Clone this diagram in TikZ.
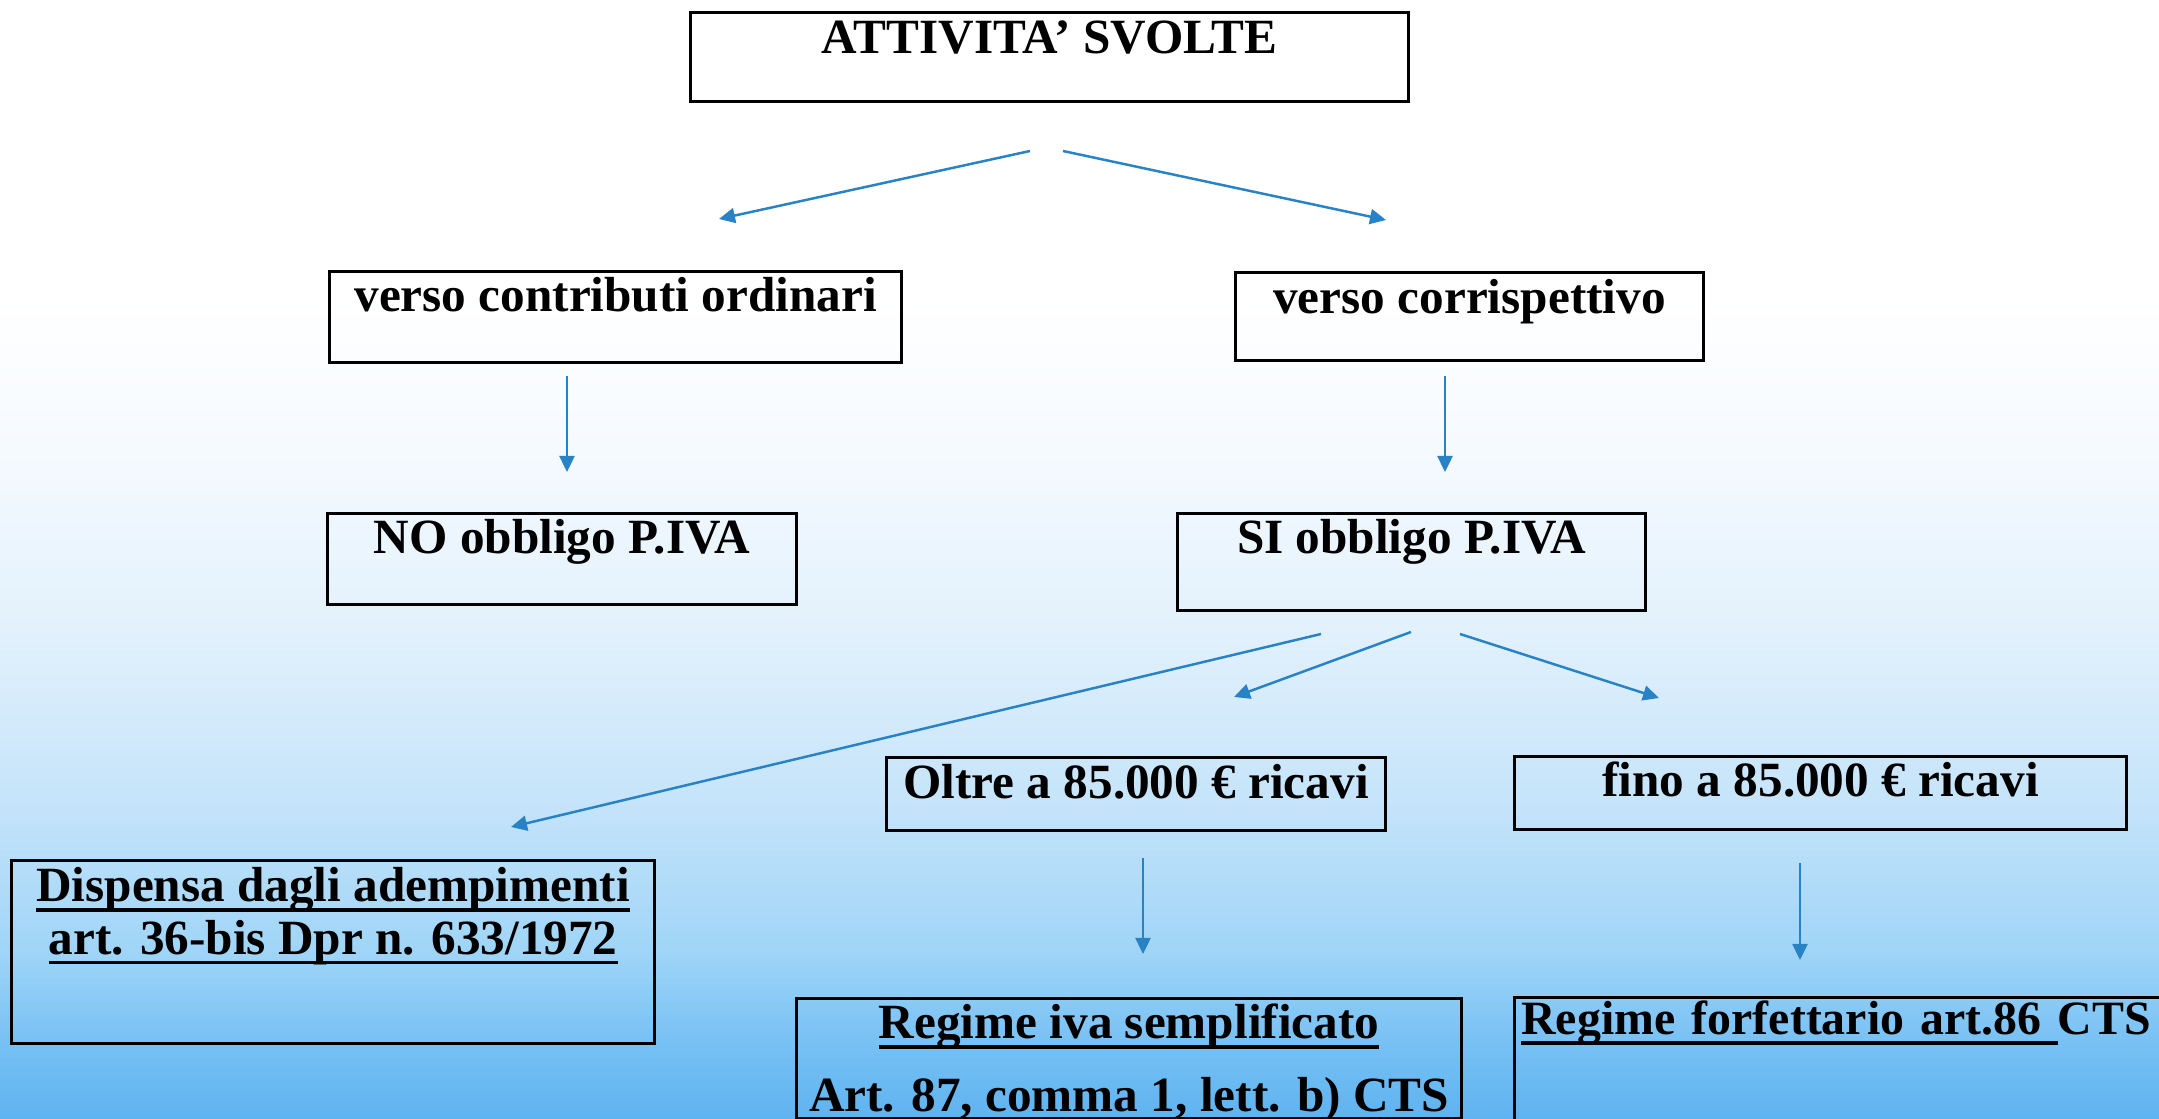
\documentclass[tikz,border=0pt]{standalone}
\usepackage{fontspec}
\setmainfont{Liberation Serif}
\usepackage{tikz}
\usetikzlibrary{arrows.meta}
\definecolor{arrblue}{RGB}{40,130,198}
\pgfdeclareverticalshading{bgfade}{100bp}{%
  rgb(0bp)=(0.369,0.702,0.941);
  rgb(25bp)=(0.369,0.702,0.941);
  rgb(29.5bp)=(0.463,0.753,0.957);
  rgb(35.3bp)=(0.627,0.835,0.969);
  rgb(44.5bp)=(0.776,0.894,0.980);
  rgb(54.9bp)=(0.886,0.945,0.988);
  rgb(65.8bp)=(0.961,0.980,1);
  rgb(75bp)=(1,1,1);
  rgb(100bp)=(1,1,1)}
\newcommand{\ulin}[1]{\leavevmode\setbox0\hbox{#1}\rlap{\rule[-2.9pt]{\wd0}{0.9pt}}\box0}
\tikzset{
  box/.style={draw, line width=0.8pt, anchor=north west, inner xsep=0pt, inner ysep=0pt,
    font=\bfseries\fontsize{14}{15}\selectfont},
  arr/.style={draw=arrblue, line width=0.7pt, -{Triangle[length=0.16cm,width=0.15cm]}}
}

\begin{document}
\begin{tikzpicture}[x=0.01cm, y=-0.01cm]
			%%%%% SFONDO %%%%%
			\useasboundingbox (0,0) rectangle (2159,1119);
			\fill[white] (0,0) rectangle (2159,1119);
			\shade[shading=bgfade] (0,300) rectangle (2159,1119);
			
			%%%%% RIQUADRI %%%%%
			\node[box, minimum width=7.18cm, text height=0.41cm, text depth=0.48cm] (attivita) at (689,11) {ATTIVITA’ SVOLTE};
			
			\node[box, minimum width=5.72cm, text height=0.40cm, text depth=0.51cm] (contrib) at (328,270) {verso contributi ordinari};
			\node[box, minimum width=4.68cm, text height=0.41cm, text depth=0.47cm] (corrisp) at (1234,271) {verso corrispettivo};
			
			\node[box, minimum width=4.69cm, text height=0.40cm, text depth=0.51cm] (noiva) at (326,512) {NO obbligo P.IVA};
			\node[box, minimum width=4.68cm, text height=0.40cm, text depth=0.57cm] (siiva) at (1176,512) {SI obbligo P.IVA};
			
			\node[box, minimum width=4.99cm, text height=0.41cm, text depth=0.32cm] (oltre) at (885,756) {Oltre a 85.000 € ricavi};
			\node[box, minimum width=6.12cm, text height=0.40cm, text depth=0.33cm] (fino) at (1513,755) {fino a 85.000 € ricavi};
			
			\node[box, minimum width=6.43cm, text height=0.41cm, text depth=1.42cm] (dispensa) at (10,859)
				{\begin{tabular}[t]{@{}c@{}}\ulin{Dispensa dagli adempimenti}\\ \ulin{art. 36-bis Dpr n. 633/1972}\end{tabular}};
			\node[box, minimum width=6.65cm, text height=0.40cm, text depth=0.80cm] (semplif) at (795,997)
				{\begin{tabular}[t]{@{}c@{}}\ulin{Regime iva semplificato}\\[5.7pt] Art. 87, comma 1, lett. b) CTS\end{tabular}};
			\node[box, text width=7.0cm, align=left, inner xsep=0.07cm, text height=0.37cm, text depth=1.2cm] (forfett) at (1513,996)
				{\fontsize{13.6}{15}\selectfont\ulin{Regime forfettario art.86\ }CTS};
			
			%%%%% FRECCE %%%%%
			\coordinate (attL) at (1030,151);
			\coordinate (attR) at (1063,151);
			\coordinate (contribIn) at (719,219);
			\coordinate (corrispIn) at (1386,220);
			\coordinate (contribOut) at (567,376);
			\coordinate (noivaIn) at (567,472);
			\coordinate (corrispOut) at (1445,376);
			\coordinate (siivaIn) at (1445,472);
			\coordinate (siivaL) at (1321,634);
			\coordinate (siivaM) at (1411,632);
			\coordinate (siivaR) at (1460,634);
			\coordinate (dispensaIn) at (511,827);
			\coordinate (oltreIn) at (1234,697);
			\coordinate (finoIn) at (1659,698);
			\coordinate (oltreOut) at (1143,858);
			\coordinate (semplifIn) at (1143,954);
			\coordinate (finoOut) at (1800,863);
			\coordinate (forfettIn) at (1800,960);
			
			\draw[arr] (attL) -- (contribIn);
			\draw[arr] (attR) -- (corrispIn);
			\draw[arr] (contribOut) -- (noivaIn);
			\draw[arr] (corrispOut) -- (siivaIn);
			\draw[arr] (siivaL) -- (dispensaIn);
			\draw[arr] (siivaM) -- (oltreIn);
			\draw[arr] (siivaR) -- (finoIn);
			\draw[arr] (oltreOut) -- (semplifIn);
			\draw[arr] (finoOut) -- (forfettIn);
\end{tikzpicture}
\end{document}
